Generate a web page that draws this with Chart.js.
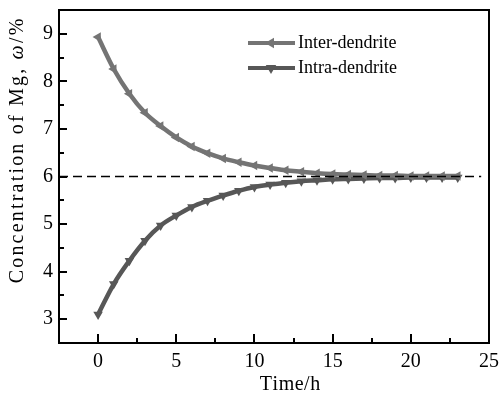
<!DOCTYPE html>
<html>
<head>
<meta charset="utf-8">
<script src="https://cdn.jsdelivr.net/npm/chart.js@4"></script>
<style>
  html, body { margin: 0; padding: 0; background: #fff; }
  #chart { display: block; }
</style>
</head>
<body>
<canvas id="chart" width="500" height="396"></canvas>
<script>
// data, one point per hour
const hours = [0, 1, 2, 3, 4, 5, 6, 7, 8, 9, 10, 11, 12, 13, 14, 15, 16, 17, 18, 19, 20, 21, 22, 23];
const interValues = [8.93, 8.26, 7.74, 7.34, 7.06, 6.82, 6.63, 6.49, 6.38, 6.30, 6.23, 6.18, 6.13, 6.10, 6.07, 6.05, 6.04, 6.03, 6.02, 6.02, 6.01, 6.01, 6.01, 6.01];
const intraValues = [3.10, 3.74, 4.23, 4.65, 4.97, 5.18, 5.36, 5.49, 5.60, 5.70, 5.78, 5.83, 5.87, 5.90, 5.92, 5.94, 5.95, 5.96, 5.97, 5.97, 5.98, 5.98, 5.98, 5.98];
const refLevel = 6;
const refSpan = [-2.5, 24.5];
const xTicks = [0, 5, 10, 15, 20, 25];
const xMinor = [2.5, 7.5, 12.5, 17.5, 22.5];
const yTicks = [3, 4, 5, 6, 7, 8, 9];
const yMinor = [3.5, 4.5, 5.5, 6.5, 7.5, 8.5];
const seriesNames = ['Inter-dendrite', 'Intra-dendrite'];

const SERIF = '"Liberation Serif", "Times New Roman", serif';
const interColor = '#747474';
const intraColor = '#575757';

function toPoints(xs, ys) {
  return xs.map((x, i) => ({ x: x, y: ys[i] }));
}

// draw text char by char with extra spacing, parts may mix fonts
function drawSpaced(ctx, parts, spacing, cx, cy) {
  const chars = [];
  parts.forEach(p => {
    for (const ch of p.text) {
      ctx.font = p.font;
      chars.push({ ch: ch, font: p.font, w: ctx.measureText(ch).width });
    }
  });
  let total = chars.reduce((s, c) => s + c.w, 0) + spacing * (chars.length - 1);
  let x = cx - total / 2;
  ctx.textAlign = 'left';
  ctx.textBaseline = 'middle';
  chars.forEach(c => {
    ctx.font = c.font;
    ctx.fillText(c.ch, x, cy);
    x += c.w + spacing;
  });
}

function drawMarker(ctx, style, x, y, r, color) {
  ctx.save();
  ctx.translate(x, y);
  ctx.rotate(style === 'left' ? -Math.PI / 2 : Math.PI);
  ctx.beginPath();
  ctx.moveTo(0, -r);
  ctx.lineTo(r * 0.87, r * 0.5);
  ctx.lineTo(-r * 0.87, r * 0.5);
  ctx.closePath();
  ctx.fillStyle = color;
  ctx.fill();
  ctx.restore();
}

const framePlugin = {
  id: 'frame',
  afterDraw(chart) {
    const ctx = chart.ctx;
    const a = chart.chartArea;
    const xs = chart.scales.x, ys = chart.scales.y;
    ctx.save();
    ctx.strokeStyle = '#000';
    ctx.lineWidth = 2;
    ctx.strokeRect(a.left, a.top, a.right - a.left, a.bottom - a.top);

    // inward ticks on bottom and left axes
    ctx.beginPath();
    xTicks.forEach(v => {
      const px = Math.round(xs.getPixelForValue(v));
      ctx.moveTo(px, a.bottom); ctx.lineTo(px, a.bottom - 9);
    });
    xMinor.forEach(v => {
      const px = Math.round(xs.getPixelForValue(v));
      ctx.moveTo(px, a.bottom); ctx.lineTo(px, a.bottom - 5);
    });
    yTicks.forEach(v => {
      const py = Math.round(ys.getPixelForValue(v));
      ctx.moveTo(a.left, py); ctx.lineTo(a.left + 8, py);
    });
    yMinor.forEach(v => {
      const py = Math.round(ys.getPixelForValue(v));
      ctx.moveTo(a.left, py); ctx.lineTo(a.left + 5, py);
    });
    ctx.stroke();

    // axis titles
    ctx.fillStyle = '#000';
    drawSpaced(ctx, [{ text: 'Time/h', font: '20px ' + SERIF }], 0.5, 290, 385);
    ctx.save();
    ctx.translate(18, 151);
    ctx.rotate(-Math.PI / 2);
    drawSpaced(ctx, [
      { text: 'Concentration of Mg, ', font: '20px ' + SERIF },
      { text: '\u03c9', font: 'italic 20px ' + SERIF },
      { text: '/%', font: '20px ' + SERIF }
    ], 2.2, 0, 0);
    ctx.restore();

    // legend
    const rows = [
      { name: seriesNames[0], color: interColor, style: 'left', y: 43 },
      { name: seriesNames[1], color: intraColor, style: 'down', y: 68 }
    ];
    rows.forEach(r => {
      ctx.strokeStyle = r.color;
      ctx.lineWidth = 4;
      ctx.beginPath();
      ctx.moveTo(248, r.y); ctx.lineTo(295, r.y);
      ctx.stroke();
      drawMarker(ctx, r.style, 271, r.y, 6, r.color);
      ctx.fillStyle = '#000';
      ctx.font = '18px ' + SERIF;
      ctx.textAlign = 'left';
      ctx.textBaseline = 'middle';
      ctx.fillText(r.name, 298, r.y);
    });
    ctx.restore();
  }
};

new Chart(document.getElementById('chart'), {
  type: 'line',
  data: {
    datasets: [
      {
        label: 'reference',
        data: toPoints(refSpan, [refLevel, refLevel]),
        borderColor: '#000',
        borderWidth: 1.6,
        borderDash: [9, 5],
        pointRadius: 0,
        order: -1
      },
      {
        label: seriesNames[0],
        data: toPoints(hours, interValues),
        borderColor: interColor,
        backgroundColor: interColor,
        borderWidth: 4.5,
        pointStyle: 'triangle',
        rotation: -90,
        pointRadius: 5.5,
        pointBorderWidth: 0,
        cubicInterpolationMode: 'monotone'
      },
      {
        label: seriesNames[1],
        data: toPoints(hours, intraValues),
        borderColor: intraColor,
        backgroundColor: intraColor,
        borderWidth: 4.5,
        pointStyle: 'triangle',
        rotation: 180,
        pointRadius: 5.5,
        pointBorderWidth: 0,
        cubicInterpolationMode: 'monotone'
      }
    ]
  },
  options: {
    responsive: false,
    animation: false,
    devicePixelRatio: 1,
    layout: { padding: { top: 10, right: 11, left: 0, bottom: 0 } },
    plugins: { legend: { display: false }, tooltip: { enabled: false } },
    scales: {
      x: {
        type: 'linear',
        min: -2.5,
        max: 25,
        afterBuildTicks: s => { s.ticks = xTicks.map(v => ({ value: v })); },
        afterFit: s => { s.height = 53; s.paddingLeft = 0; s.paddingRight = 0; },
        grid: { display: false, drawTicks: false },
        border: { display: false },
        ticks: { color: '#000', font: { family: SERIF, size: 20 }, padding: 7, maxRotation: 0 }
      },
      y: {
        min: 2.5,
        max: 9.5,
        afterBuildTicks: s => { s.ticks = yTicks.map(v => ({ value: v })); },
        afterFit: s => { s.width = 59; s.paddingTop = 0; s.paddingBottom = 0; },
        grid: { display: false, drawTicks: false },
        border: { display: false },
        ticks: { color: '#000', font: { family: SERIF, size: 20 }, padding: 6 }
      }
    }
  },
  plugins: [framePlugin]
});
</script>
</body>
</html>
